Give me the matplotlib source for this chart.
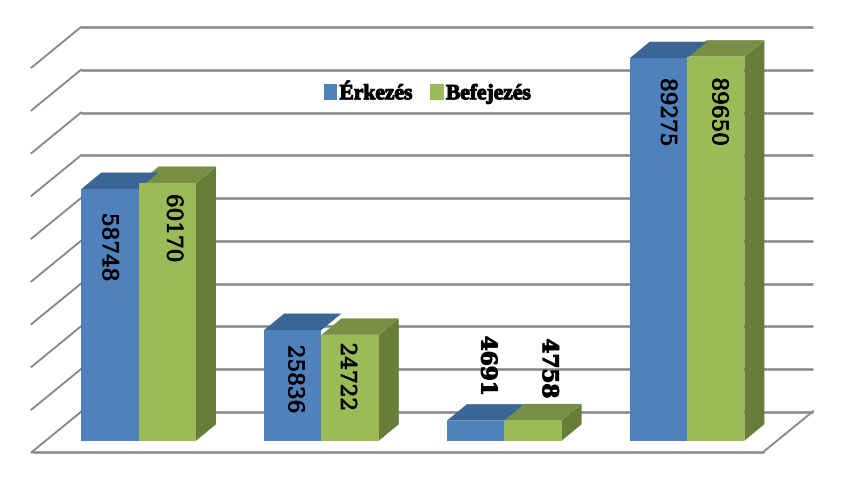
# -*- coding: utf-8 -*-
# 3D look clustered column chart, Érkezés / Befejezés
import numpy as np
import matplotlib.pyplot as plt
from matplotlib.patches import Polygon
import matplotlib.patheffects as pe

# Data
groups = [0, 1, 2, 3]
erkezes = [58748, 25836, 4691, 89275]
befejezes = [60170, 24722, 4758, 89650]
grid_values = [0, 10000, 20000, 30000, 40000, 50000, 60000, 70000, 80000, 90000]
series_names = ['Érkezés', 'Befejezés']

# Layout: one value unit and one group step, expressed in pixels
W, H = 849, 481
GROUP_PX = 182.8
VALUE_PX = 42.85 / 10000
X0_PX, BASE_PX = 138.6, 441.8   # centre of first group, foot of the bars


def px_x(n):
    return n / GROUP_PX


def px_y(n):
    return n / VALUE_PX


bar_w = px_x(57.4)
depth_x, depth_y = px_x(20), px_y(16.5)
wall_y = px_y(29)                # back wall sits above the bar foot
floor_y = px_y(-11)              # front edge of the floor
wall_l, wall_r = px_x(81 - X0_PX), px_x(813 - X0_PX)
floor_dx = px_x(49.5)
floor_dy = px_y(40.5)

BLUE, BLUE_TOP = '#4F81BD', '#3B6595'
GREEN, GREEN_TOP, GREEN_SIDE = '#9BBB59', '#778F45', '#677D38'
GRID = '#868686'
SERIF = 'Liberation Serif'

fig = plt.figure(figsize=(W / 100, H / 100), dpi=100)
ax = fig.add_axes([0, 0, 1, 1])
ax.set_xlim(px_x(-X0_PX), px_x(W - X0_PX))
ax.set_ylim(px_y(BASE_PX - H), px_y(BASE_PX))
ax.axis('off')

# Walls: back gridlines and their slanted part on the left
for v in grid_values:
    y = v * 42.75 / 42.85 + wall_y
    ax.plot([wall_l, wall_r], [y, y], color=GRID, lw=1.8, zorder=1,
            solid_capstyle='butt')
    ax.plot([wall_l - floor_dx, wall_l], [y - floor_dy, y], color=GRID, lw=1.4,
            zorder=1)
# Floor front edge and right edge
ax.plot([wall_l - floor_dx, wall_r - floor_dx], [floor_y, floor_y], color=GRID,
        lw=1.8, zorder=1, solid_capstyle='butt')
ax.plot([wall_r - floor_dx, wall_r], [floor_y, floor_y + floor_dy], color=GRID,
        lw=1.4, zorder=1)

x = np.array(groups, dtype=float)
left = x - bar_w
mid = x
bars_a = ax.bar(left, erkezes, bar_w, align='edge', color=BLUE, zorder=5,
                label=series_names[0])
bars_b = ax.bar(mid, befejezes, bar_w, align='edge', color=GREEN, zorder=5,
                label=series_names[1])

# Top and side faces of each column
for i in range(len(groups)):
    a, b = erkezes[i], befejezes[i]
    ax.add_patch(Polygon([(mid[i], b), (mid[i] + depth_x, b + depth_y),
                          (mid[i] + bar_w + depth_x, b + depth_y),
                          (mid[i] + bar_w, b)], color=GREEN_TOP, lw=0, zorder=3))
    ax.add_patch(Polygon([(left[i], a), (left[i] + depth_x, a + depth_y),
                          (left[i] + bar_w + depth_x, a + depth_y),
                          (left[i] + bar_w, a)], color=BLUE_TOP, lw=0, zorder=4))
    ax.add_patch(Polygon([(mid[i] + bar_w, b), (mid[i] + bar_w + depth_x, b + depth_y),
                          (mid[i] + bar_w + depth_x, depth_y),
                          (mid[i] + bar_w, 0)], color=GREEN_SIDE, lw=0, zorder=4))

# Value labels, offset from the column's centre and top (pixels)
label_dx = [(-1, 6), (2, -3), (12, 16), (9, 3)]
label_dy = [(-58, -45), (-49, -42), (55, 52), (-54, -55)]
halo = [pe.withStroke(linewidth=0.6, foreground='black')]
heavy = [pe.withStroke(linewidth=0.8, foreground='black')]
for i in range(len(groups)):
    for j, vals in enumerate((erkezes, befejezes)):
        cx = (left if j == 0 else mid)[i] + bar_w / 2
        t = ax.text(cx + px_x(label_dx[i][j]), vals[i] + px_y(label_dy[i][j]),
                    str(vals[i]), rotation=270, ha='center', va='center',
                    family='DejaVu Serif', size=15.5, color='black', zorder=6,
                    fontweight='bold' if i == 2 else 'normal')
        t.set_path_effects(heavy if i == 2 else halo)

# Legend
leg = ax.legend(handles=[bars_a, bars_b], ncol=2, frameon=False,
                loc='center left', bbox_to_anchor=(324 / W, 1 - 95 / H),
                prop={'family': SERIF, 'weight': 'bold', 'size': 15.5},
                handlelength=0.62, handleheight=0.75, handletextpad=0.1,
                columnspacing=0.85, borderpad=0, borderaxespad=0)
for t in leg.get_texts():
    t.set_path_effects(heavy)

plt.savefig('out.png', dpi=100)
